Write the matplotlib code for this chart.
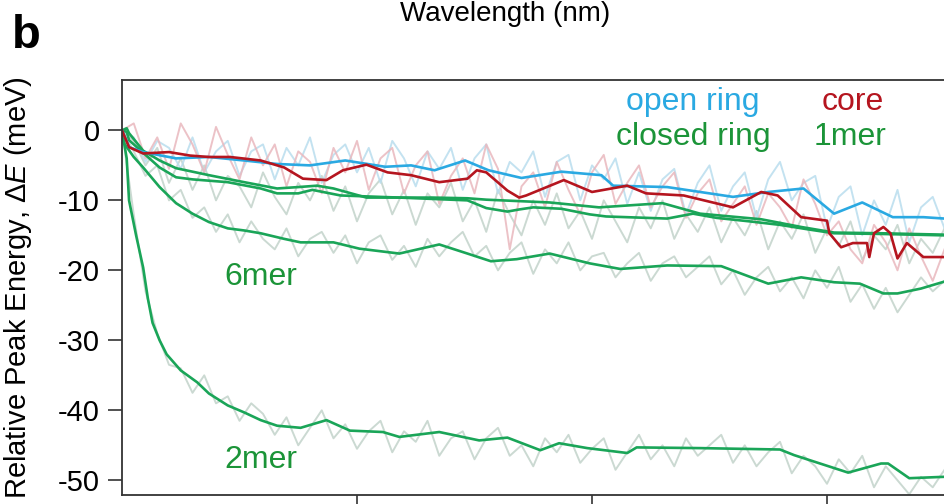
import numpy as np
import matplotlib
matplotlib.use("Agg")
import matplotlib.pyplot as plt

plt.rcParams['font.family'] = ['Liberation Sans', 'DejaVu Sans']
plt.rcParams['mathtext.fontset'] = 'custom'
plt.rcParams['mathtext.it'] = 'Liberation Sans:italic'
plt.rcParams['mathtext.rm'] = 'Liberation Sans'
plt.rcParams['axes.unicode_minus'] = False

# smoothed peak-energy shifts (meV) vs time
t_2mer = [0, 0.2, 0.3, 0.6, 0.9, 1.1, 1.3, 1.6, 1.9, 2.5, 3.2, 3.7, 4.5, 5.2, 5.9, 6.6,
          7.6, 8.7, 9.7, 11.1, 11.8, 13.5, 15.2, 16.4, 17.8, 18.6, 19.8, 21.5, 21.9,
          24.6, 28.0, 28.6, 30.9, 32.3, 32.6, 33.5, 35.0]
e_2mer = [0, -4, -10, -15, -19.6, -24, -27.5, -30, -32, -34.3, -36, -37.6, -39.3, -40.3,
          -41.4, -42.2, -42.5, -41.4, -42.9, -43.1, -43.8, -43.1, -44.3, -43.9, -45.7,
          -44.7, -45.4, -46.1, -45.3, -45.4, -45.6, -46.4, -48.9, -47.6, -47.6, -49.7, -49.5]

t_6mer = [0, 0.1, 0.5, 0.9, 1.6, 2.3, 3.0, 3.7, 4.5, 5.2, 5.9, 6.9, 7.6, 9.0, 10.1, 11.8,
          13.5, 14.7, 15.7, 16.8, 18.2, 19.9, 21.2, 23.2, 25.5, 27.5, 28.9, 30.3, 31.4,
          32.4, 33.0, 34.0, 35.0]
e_6mer = [0, -1.9, -3.8, -5.3, -8.1, -10.4, -11.9, -13.1, -14.0, -14.3, -14.7, -15.5, -16.0,
          -16.0, -16.9, -17.6, -16.3, -17.6, -18.7, -18.4, -17.6, -19.0, -19.8, -19.3, -19.4,
          -21.9, -21.0, -21.7, -21.9, -23.3, -23.3, -22.6, -21.6]

t_open = [0, 0.2, 0.3, 0.9, 2.3, 3.7, 5.2, 6.6, 8.0, 9.5, 11.2, 12.3, 13.3, 14.6, 15.6,
          17.0, 18.7, 20.4, 20.9, 23.2, 26.0, 27.5, 29.0, 30.3, 31.5, 32.8, 34.1, 35.0]
e_open = [0, -1.5, -2.4, -3.1, -4.0, -3.8, -4.3, -4.8, -5.0, -4.3, -5.2, -5.0, -5.7, -4.3,
          -5.7, -6.8, -5.9, -6.4, -7.9, -8.1, -9.5, -8.8, -8.3, -11.9, -10.3, -12.4, -12.4, -12.6]

t_core = [0, 0.3, 0.9, 2.0, 2.9, 3.7, 4.6, 5.9, 6.9, 7.7, 8.7, 9.4, 10.4, 11.3, 12.3,
          13.5, 14.7, 15.1, 15.5, 16.4, 16.9, 17.2, 18.8, 20.0, 21.5, 22.3, 23.9, 26.0,
          27.2, 27.9, 28.9, 30.0, 30.1, 30.6, 31.1, 31.7, 31.8, 32.0, 32.4, 32.7, 33.0,
          33.4, 34.1, 35.0]
e_core = [0, -2.4, -3.3, -3.1, -3.6, -3.8, -3.8, -4.3, -5.3, -6.9, -7.1, -5.7, -4.9, -6.0,
          -6.4, -7.4, -6.9, -5.7, -6.0, -8.6, -9.6, -9.3, -7.1, -8.8, -7.9, -9.0, -9.3,
          -11.0, -8.8, -9.3, -12.4, -12.9, -14.7, -16.7, -16.1, -16.1, -18.1, -14.7, -13.8,
          -14.7, -18.3, -16.1, -18.1, -18.1]

t_1mer = [0, 0.2, 0.3, 0.9, 1.6, 2.3, 3.7, 5.2, 6.6, 7.5, 8.3, 9.0, 10.4, 13.2, 14.7,
          15.5, 18.2, 20.3, 23.0, 24.6, 27.2, 28.9, 30.3, 32.3, 35.0]
e_1mer = [0, 0.3, -0.4, -2.9, -4.3, -5.4, -6.4, -7.4, -8.3, -8.1, -7.9, -8.3, -9.6, -9.6,
          -9.7, -9.9, -10.3, -11.0, -10.4, -11.9, -12.7, -13.8, -14.6, -14.7, -14.9]

t_closed = [0, 0.2, 0.3, 1.6, 2.3, 3.0, 4.5, 5.9, 6.6, 7.5, 8.1, 9.3, 11.8, 14.7, 15.5,
            16.4, 16.9, 17.5, 18.7, 19.9, 20.6, 23.2, 24.3, 25.3, 26.7, 28.0, 29.3, 30.3,
            32.3, 35.0]
e_closed = [0, -0.2, -1.4, -5.3, -6.7, -7.0, -7.4, -8.3, -9.0, -9.0, -8.5, -9.3, -9.6,
            -10.0, -11.1, -11.6, -11.3, -11.0, -11.2, -12.0, -12.3, -12.6, -11.9, -12.5,
            -13.0, -13.5, -14.2, -14.7, -14.8, -15.0]

# unsmoothed traces, sampled every 0.5
raw_step = 0.5
raw_2mer = [0, -12, -23, -29, -33.5, -34, -37.5, -35, -39, -38, -41.5, -39, -40.5, -43.5,
            -41, -45, -42.5, -40, -44, -42, -45.5, -43, -41.5, -46, -43, -44.5, -41.5,
            -46.5, -44, -43, -47, -44, -42.5, -46.5, -45, -48, -44, -46, -43.5, -47.5,
            -45.5, -44, -48.5, -46, -43.5, -47, -45, -48, -44, -46.5, -45, -43.5, -47.5,
            -45, -48, -46, -44.5, -49, -46.5, -48, -50.5, -47, -49, -46.5, -51, -48, -50,
            -52, -49.5, -51, -48.5]
raw_6mer = [0, -3, -6.5, -5, -10, -8.5, -12.5, -11, -14.5, -12, -16, -13, -15.5, -17, -14,
            -18, -15.5, -14.5, -17.5, -15, -19, -16, -15, -18.5, -16.5, -19.5, -15.5, -18,
            -16, -14.5, -18, -16.5, -20, -17.5, -16, -20.5, -17, -19, -16, -20, -18, -17.5,
            -21, -19, -17.5, -21.5, -19, -18, -21, -19.5, -18, -22, -20, -23.5, -21, -19.5,
            -23, -21, -24, -20, -22.5, -19.5, -24.5, -22, -25.5, -22.5, -26, -23.5, -21,
            -23, -21.5]
raw_core = [0, 1, -4, -1, -5.5, 1, -2, -6, 0.5, -3.5, -7, -1, -5, -2, -8, -3, -4.5, -9,
            -2.5, -6, -1.5, -8.5, -4, -2.5, -9, -5, -3, -10.5, -6.5, -4, -9, -2, -5.5, -17,
            -8, -6, -11, -4.5, -8.5, -12, -6, -3.5, -10.5, -7.5, -5, -11, -8, -6, -12.5, -9,
            -7, -13, -10.5, -8, -13.5, -9, -11, -14, -7, -10.5, -15, -13, -17, -19, -13.5,
            -16, -20, -14, -18, -21.5, -17]
raw_open = [0, -1, -4.5, -1.5, -2.5, -5.5, -1, -6, -3, -1.5, -6.5, -3, -2, -7, -2.5, -5,
            -1, -7.5, -3.5, -2, -6, -2.5, -7.5, -1.5, -4, -8, -3, -5.5, -2.5, -8.5, -4, -2,
            -9, -4.5, -6, -3, -9.5, -4.5, -3.5, -10, -5, -7, -4, -10.5, -6, -11.5, -7, -5.5,
            -12, -7.5, -5, -11.5, -8, -6, -12.5, -7, -4.5, -10, -7.5, -6.5, -14, -9.5, -8,
            -15, -10, -13.5, -8.5, -16, -11, -9.5, -14]
raw_ring = [0, -1.5, -5, -2.5, -7.5, -4, -8.5, -5, -10, -6.5, -8, -11, -6, -9.5, -12, -7.5,
            -10, -6.5, -11.5, -8, -13, -9, -7, -12, -8.5, -13.5, -9, -11, -7.5, -13, -10,
            -14.5, -8.5, -12, -15, -10, -13.5, -9, -14, -11.5, -15.5, -10, -13, -16, -11,
            -14, -10, -15.5, -12, -14.5, -11, -16, -12.5, -15, -11.5, -17, -13, -15.5, -12,
            -17.5, -14, -16.5, -13, -18.5, -15, -17, -13.5, -19, -15.5, -17.5, -14]

c_open = '#2aa9e2'
c_core = '#b5151f'
c_green = '#1aa558'
c_text_green = '#1b9438'
c_raw_green = '#c2d3ca'
c_raw_pink = '#e9b8be'
c_raw_blue = '#b9ddee'

fig = plt.figure(figsize=(9.45, 5.04), dpi=100)
ax = fig.add_axes([122 / 945, 9 / 504, 846 / 945, 415 / 504])


def raw_t(vals):
    return np.arange(len(vals)) * raw_step


for vals, col in [(raw_ring, c_raw_green), (raw_open, c_raw_blue), (raw_core, c_raw_pink),
                  (raw_6mer, c_raw_green), (raw_2mer, c_raw_green)]:
    ax.plot(raw_t(vals), vals, color=col, lw=1.4, alpha=0.85)

lw = 1.9
ax.plot(t_2mer, e_2mer, color=c_green, lw=lw)
ax.plot(t_6mer, e_6mer, color=c_green, lw=lw)
ax.plot(t_closed, e_closed, color=c_green, lw=lw)
ax.plot(t_1mer, e_1mer, color=c_green, lw=lw)
ax.plot(t_open, e_open, color=c_open, lw=lw)
ax.plot(t_core, e_core, color=c_core, lw=lw)

ax.set_xlim(0, 36)
ax.set_ylim(-52.1, 7.2)
ax.set_yticks([0, -10, -20, -30, -40, -50])
ax.set_xticks([10, 20, 30])
ax.tick_params(axis='both', direction='out', length=10, width=1.2, color='#333333',
               labelsize=21, pad=6)
ax.tick_params(axis='x', labelbottom=False)
for sp in ax.spines.values():
    sp.set_color('#333333')
    sp.set_linewidth(1.3)

ax.set_ylabel(r'Relative Peak Energy, $\mathit{\Delta E}$ (meV)', fontsize=21)
ax.yaxis.set_label_coords(-0.104, 0.5)

lab = dict(fontsize=23, ha='center', va='center')
ax.text(24.3, 4.0, 'open ring', color=c_open, **lab)
ax.text(31.1, 4.0, 'core', color=c_core, **lab)
ax.text(24.3, -1.0, 'closed ring', color=c_text_green, **lab)
ax.text(31.0, -1.0, '1mer', color=c_text_green, **lab)
ax.text(5.9, -21.0, '6mer', color=c_text_green, **lab)
ax.text(5.9, -47.1, '2mer', color=c_text_green, **lab)

fig.text(505 / 945, 1 - 14 / 504, 'Wavelength (nm)', fontsize=20, ha='center', va='center')
fig.text(12 / 945, 1 - 36 / 504, 'b', fontsize=34, fontweight='bold', ha='left', va='center')

fig.savefig('out.png', dpi=100)
